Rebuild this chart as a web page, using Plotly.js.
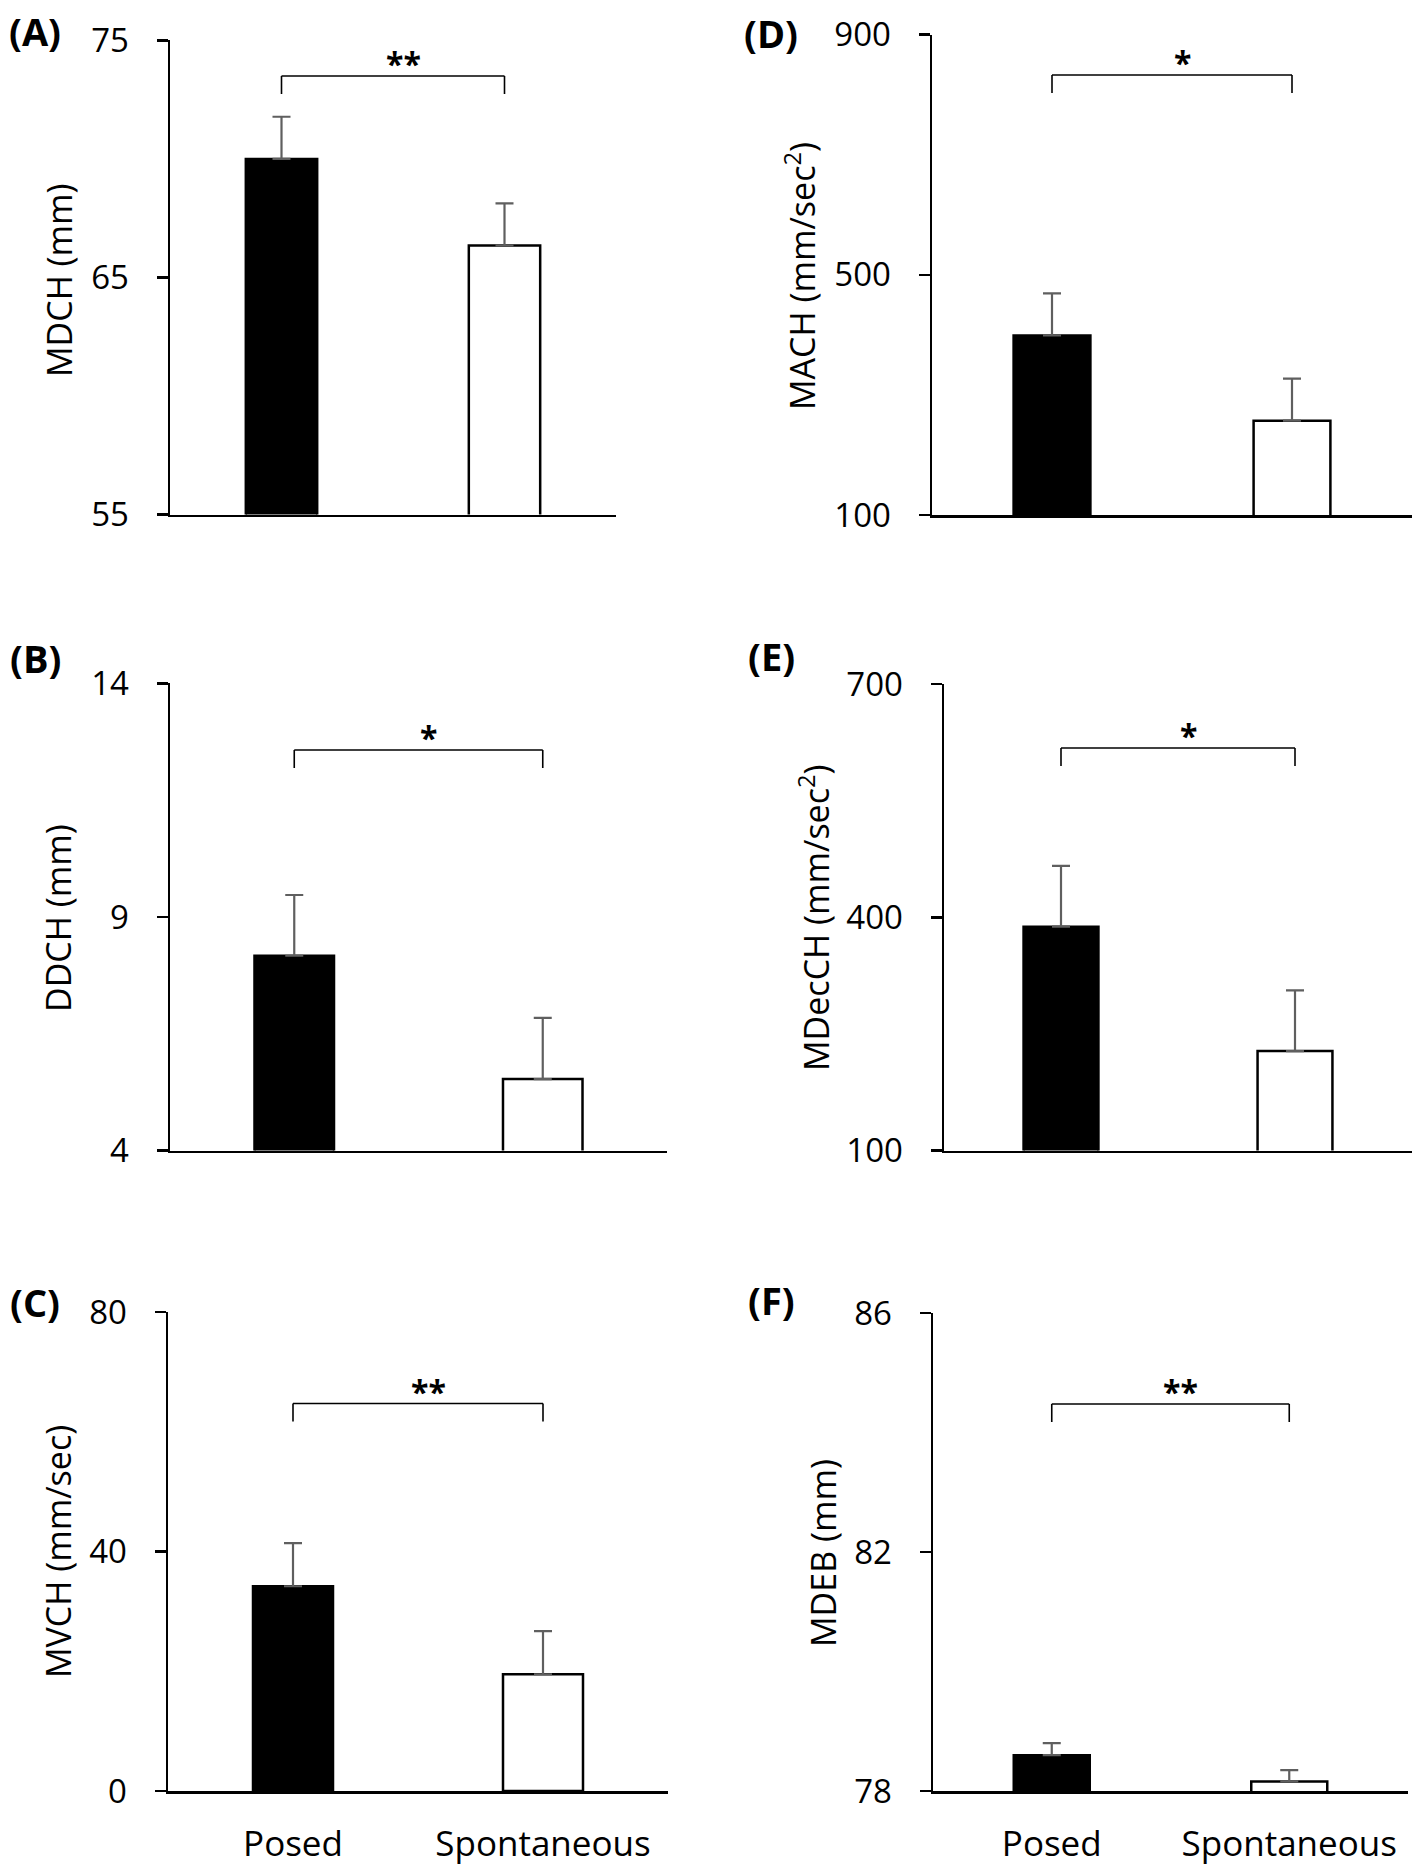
<!DOCTYPE html>
<html>
<head>
<meta charset="utf-8">
<script src="https://cdn.plot.ly/plotly-3.0.1.min.js"></script>
<style>html,body{margin:0;padding:0;background:#fff;}#chart{width:1418px;height:1867px;}</style>
</head>
<body>
<div id="chart"></div>
<script>
// ---- data ----
const categories = ['Posed', 'Spontaneous'];

const mdchMean = [70.0, 66.35];
const mdchErr  = [1.78, 1.78];

const ddchMean = [8.17, 5.53];
const ddchErr  = [1.30, 1.31];

const mvchMean = [34.2, 19.5];
const mvchErr  = [7.2, 7.2];

const machMean = [399, 257];
const machErr  = [70, 70];

const mdecchMean = [388, 228];
const mdecchErr  = [78, 78];

const mdebMean = [78.6, 78.16];
const mdebErr  = [0.2, 0.19];

const ticksA = [55, 65, 75];
const ticksB = [4, 9, 14];
const ticksC = [0, 40, 80];
const ticksD = [100, 500, 900];
const ticksE = [100, 400, 700];
const ticksF = [78, 82, 86];

const panelLabels = ['(A)', '(B)', '(C)', '(D)', '(E)', '(F)'];
const yTitles = ['MDCH (mm)', 'DDCH (mm)', 'MVCH (mm/sec)',
                 'MACH (mm/sec<sup>2</sup>)', 'MDecCH (mm/sec<sup>2</sup>)', 'MDEB (mm)'];
const significance = ['**', '*', '**', '*', '*', '**'];

// ---- layout geometry (pixels in a 1418 x 1867 figure) ----
const W = 1418, H = 1867;
const FONT = 'Open Sans, Liberation Sans, sans-serif';

const panels = [
  {mean: mdchMean,   err: mdchErr,   ticks: ticksA, box: [170, 616, 40.4, 514.6], showX: false, title: [59, 280],  label: [35, 31],   br: 76},
  {mean: ddchMean,   err: ddchErr,   ticks: ticksB, box: [170, 667, 683.3, 1150.6], showX: false, title: [58, 918], label: [35, 658],  br: 750},
  {mean: mvchMean,   err: mvchErr,   ticks: ticksC, box: [168, 668, 1312, 1791], showX: true,  title: [58, 1552], label: [35, 1302], br: 1403.5},
  {mean: machMean,   err: machErr,   ticks: ticksD, box: [932, 1412, 34.6, 515], showX: false, title: [800, 276], label: [771, 33],  br: 75},
  {mean: mdecchMean, err: mdecchErr, ticks: ticksE, box: [944, 1412, 684, 1150.6], showX: false, title: [814, 918], label: [771, 656], br: 748},
  {mean: mdebMean,   err: mdebErr,   ticks: ticksF, box: [933, 1408, 1313, 1791], showX: true,  title: [823, 1553], label: [771, 1300], br: 1404}
];

const traces = [];
const layout = {
  width: W, height: H,
  margin: {l: 0, r: 0, t: 0, b: 0},
  paper_bgcolor: '#fff', plot_bgcolor: 'rgba(0,0,0,0)',
  showlegend: false,
  shapes: [], annotations: [],
  font: {family: FONT, color: '#000'}
};

panels.forEach((p, i) => {
  const n = i === 0 ? '' : String(i + 1);
  const xa = 'xaxis' + n, ya = 'yaxis' + n;
  const [x0, x1, yTop, yBot] = p.box;
  const rng = [p.ticks[0], p.ticks[p.ticks.length - 1]];

  layout[xa] = {
    domain: [x0 / W, x1 / W], anchor: 'y' + n,
    type: 'category', categoryarray: categories, range: [-0.5, 1.5],
    showline: true, linecolor: '#000', linewidth: 2.5,
    ticks: '', showticklabels: p.showX, ticklabelstandoff: 20,
    tickfont: {family: FONT, size: 35, color: '#000'},
    showgrid: false, zeroline: false, fixedrange: true
  };
  layout[ya] = {
    domain: [1 - yBot / H, 1 - yTop / H], anchor: 'x' + n,
    range: rng, tickvals: p.ticks, ticktext: p.ticks.map(String),
    showline: true, linecolor: '#000', linewidth: 2.5,
    ticks: 'outside', ticklen: 11, tickwidth: 2.5, tickcolor: '#000',
    ticklabelstandoff: 21,
    tickfont: {family: FONT, size: 33, color: '#000'},
    showgrid: false, zeroline: false, fixedrange: true
  };

  traces.push({
    type: 'bar', x: categories, y: p.mean,
    xaxis: 'x' + n, yaxis: 'y' + n,
    width: 0.32,
    marker: {color: ['#000000', '#ffffff'], line: {color: '#000000', width: 2.5}},
    error_y: {type: 'data', symmetric: false, array: p.err, arrayminus: p.err.map(() => 0),
              color: '#5f5f5f', thickness: 2.2, width: 9},
    hoverinfo: 'skip'
  });

  // significance bracket between the two bar centres
  const hpx = yBot - yTop;
  const fTop = (yBot - p.br) / hpx;
  const fLow = fTop - 18 / hpx;
  const lineStyle = {color: '#000', width: 1.6};
  const xr = 'x' + n, yr = 'y' + n + ' domain';
  layout.shapes.push(
    {type: 'line', xref: xr, yref: yr, x0: 0, x1: 0, y0: fLow, y1: fTop, line: lineStyle},
    {type: 'line', xref: xr, yref: yr, x0: 0, x1: 1, y0: fTop, y1: fTop, line: lineStyle},
    {type: 'line', xref: xr, yref: yr, x0: 1, x1: 1, y0: fLow, y1: fTop, line: lineStyle}
  );
  layout.annotations.push({
    xref: xr, yref: yr, x: 0.5, y: fTop, xshift: 10, yshift: -11,
    xanchor: 'center', yanchor: 'bottom', showarrow: false,
    text: '<b>' + significance[i] + '</b>',
    font: {family: FONT, size: 32, color: '#000'}
  });

  // y-axis title
  layout.annotations.push({
    xref: 'paper', yref: 'paper', x: p.title[0] / W, y: 1 - p.title[1] / H,
    xanchor: 'center', yanchor: 'middle', showarrow: false, textangle: -90,
    text: yTitles[i], font: {family: FONT, size: 34, color: '#000'}
  });

  // panel label
  layout.annotations.push({
    xref: 'paper', yref: 'paper', x: p.label[0] / W, y: 1 - p.label[1] / H,
    xanchor: 'center', yanchor: 'middle', showarrow: false,
    text: '<b>' + panelLabels[i] + '</b>', font: {family: FONT, size: 38, color: '#000'}
  });
});

Plotly.newPlot('chart', traces, layout, {staticPlot: true, displayModeBar: false});
</script>
</body>
</html>
